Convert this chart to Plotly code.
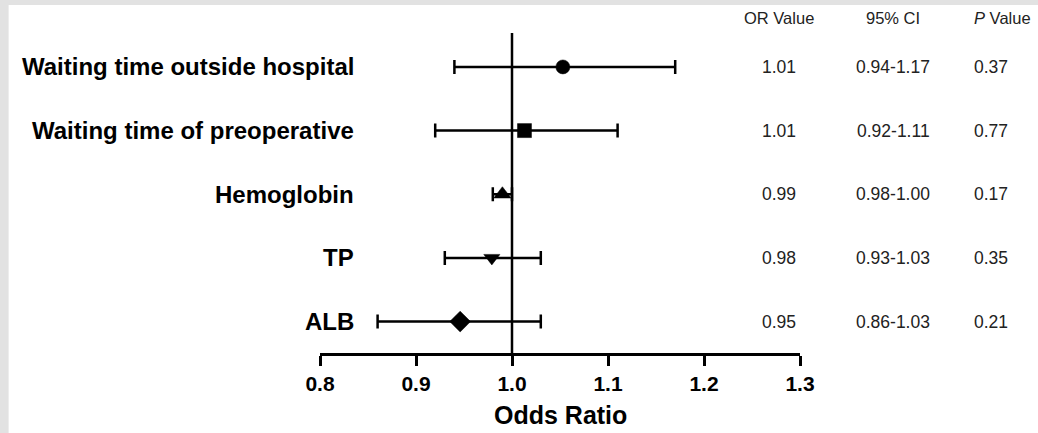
import plotly.graph_objects as go

# ---- data ----
labels = ["Waiting time outside hospital", "Waiting time of preoperative",
          "Hemoglobin", "TP", "ALB"]
point_est = [1.053, 1.013, 0.990, 0.979, 0.946]
ci_low = [0.94, 0.92, 0.98, 0.93, 0.86]
ci_high = [1.17, 1.11, 1.00, 1.03, 1.03]
symbols = ["circle", "square", "triangle-up", "triangle-down", "diamond"]

or_text = ["1.01", "1.01", "0.99", "0.98", "0.95"]
ci_text = ["0.94-1.17", "0.92-1.11", "0.98-1.00", "0.93-1.03", "0.86-1.03"]
p_text = ["0.37", "0.77", "0.17", "0.35", "0.21"]
col_headers = ["OR Value", "95% CI", "<i>P</i> Value"]

x_ticks = [0.8, 0.9, 1.0, 1.1, 1.2, 1.3]
x_ticktext = ["0.8", "0.9", "1.0", "1.1", "1.2", "1.3"]

FONT = "Liberation Sans, Arial, sans-serif"
W, H = 1038, 433
L, R, T, B = 319.5, 238.3, 33, 79.5
pw, ph = W - L - R, H - T - B


def px_x(px):
    return (px - L) / pw


def px_y(py):
    return (H - B - py) / ph


fig = go.Figure()
fig.add_trace(go.Scatter(
    x=point_est, y=labels, mode="markers",
    marker=dict(symbol=symbols, size=[14, 14, 15, 14, 16], color="black",
                opacity=1, line=dict(width=0.5, color="black")),
    error_x=dict(type="data", symmetric=False,
                 array=[h - p for h, p in zip(ci_high, point_est)],
                 arrayminus=[p - l for l, p in zip(ci_low, point_est)],
                 color="black", thickness=2.5, width=7),
    showlegend=False, cliponaxis=False,
))

shapes = [
    # white panel inside the gray frame
    dict(type="rect", xref="paper", yref="paper", layer="below",
         x0=px_x(8), x1=px_x(W + 5), y0=px_y(5), y1=px_y(H + 5),
         fillcolor="white", line=dict(width=0)),
    # reference line at OR = 1
    dict(type="line", xref="x", yref="paper", x0=1.0, x1=1.0, y0=0, y1=1,
         line=dict(color="black", width=2.5)),
]

annotations = []
for lab in labels:
    annotations.append(dict(
        x=px_x(356), y=lab, xref="paper", yref="y", xanchor="right",
        yanchor="middle", text="<b>%s</b>" % lab, showarrow=False,
        font=dict(family=FONT, size=24, color="black")))

col_x = [779, 893, 991]
for cx, hdr in zip(col_x[:2] + [1002], col_headers):
    annotations.append(dict(
        x=px_x(cx), y=px_y(18), xref="paper", yref="paper", xanchor="center",
        yanchor="middle", text=hdr, showarrow=False,
        font=dict(family=FONT, size=16.5, color="#222")))
for lab, a, b, c in zip(labels, or_text, ci_text, p_text):
    for cx, t in zip(col_x, (a, b, c)):
        annotations.append(dict(
            x=px_x(cx), y=lab, xref="paper", yref="y", xanchor="center",
            yanchor="middle", text=t, showarrow=False,
            font=dict(family=FONT, size=17.5, color="#222")))

annotations.append(dict(
    x=0.5, y=px_y(416), xref="paper", yref="paper", xanchor="center",
    yanchor="middle", text="<b>Odds Ratio</b>", showarrow=False,
    font=dict(family=FONT, size=25, color="black")))

fig.update_layout(
    width=W, height=H,
    margin=dict(l=L, r=R, t=T, b=B, pad=0),
    paper_bgcolor="#e2e2e2", plot_bgcolor="rgba(0,0,0,0)",
    shapes=shapes, annotations=annotations,
    font=dict(family=FONT, color="black"),
    xaxis=dict(range=[0.8, 1.3], tickvals=x_ticks, ticktext=x_ticktext,
               showline=True, linecolor="black", linewidth=2.5,
               ticks="outside", ticklen=10, tickwidth=2.5, tickcolor="black",
               showgrid=False, zeroline=False,
               tickfont=dict(family=FONT, size=21, color="black", weight="bold")),
    yaxis=dict(type="category",
               categoryorder="array", categoryarray=labels[::-1],
               range=[-0.494, 4.533], showticklabels=False, showline=False,
               showgrid=False, zeroline=False, ticks=""),
)

fig.write_html("out.html",
               config={"displayModeBar": False},
               post_script="document.body.style.margin='0';"
                           "document.body.style.overflow='hidden';")
